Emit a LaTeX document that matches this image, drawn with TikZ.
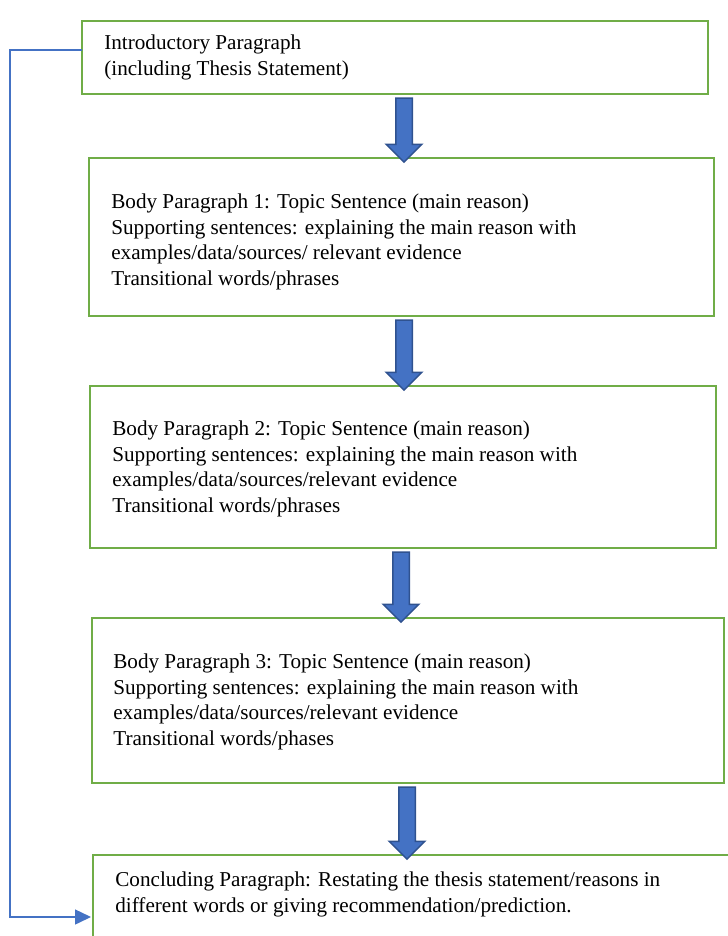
\documentclass[tikz,border=0pt]{standalone}
\usepackage{fontspec}
\setmainfont{Liberation Serif}
\usetikzlibrary{shapes.arrows,arrows.meta,fit}
\definecolor{boxgreen}{HTML}{70AD47}
\definecolor{arrowblue}{HTML}{4472C4}
\definecolor{arrowedge}{HTML}{2F528F}
\tikzset{
  para/.style={draw=boxgreen, line width=1.6pt, inner sep=0pt},
  txt/.style={anchor=base west, align=left, inner sep=0pt, font=\fontsize{12.7}{15.3}\selectfont},
  down/.style={single arrow, fill=arrowblue, draw=arrowedge, line width=0.9pt, rotate=-90,
    minimum width=20.4pt, single arrow head extend=5.7pt, single arrow head indent=0pt,
    inner xsep=0pt, inner ysep=4.5pt},
  back/.style={draw=arrowblue, line width=0.9pt}
}
\begin{document}
\begin{tikzpicture}[x=0.6pt,y=-0.6pt]
  \clip (0,0) rectangle (728,936);

  \node [para, fit={(82,21) (708,94)}] (b1) {};
  \node [txt] (t1) at (104,75) {Introductory Paragraph\\(including Thesis Statement)};

  \node [para, fit={(89,158) (714,316)}] (b2) {};
  \node [txt] (t2) at (111,285) {Body Paragraph 1: Topic Sentence (main reason)\\
    Supporting sentences: explaining the main reason with\\
    examples/data/sources/ relevant evidence\\
    Transitional words/phrases};

  \node [para, fit={(90,386) (716,548)}] (b3) {};
  \node [txt] (t3) at (112,512) {Body Paragraph 2: Topic Sentence (main reason)\\
    Supporting sentences: explaining the main reason with\\
    examples/data/sources/relevant evidence\\
    Transitional words/phrases};

  \node [para, fit={(92,618) (724,783)}] (b4) {};
  \node [txt] (t4) at (113,745) {Body Paragraph 3: Topic Sentence (main reason)\\
    Supporting sentences: explaining the main reason with\\
    examples/data/sources/relevant evidence\\
    Transitional words/phases};

  \node [para, fit={(93,855) (745,960)}] (b5) {};
  \node [txt] (t5) at (115,912) {Concluding Paragraph: Restating the thesis statement/reasons in\\
    different words or giving recommendation/prediction.};

  % block arrows between the boxes
  \node [down, minimum height=38.4pt] (a1) at (404,126) {};
  \node [down, minimum height=42pt] (a2) at (404,351) {};
  \node [down, minimum height=42pt] (a3) at (401,583) {};
  \node [down, minimum height=43.2pt] (a4) at (407,819) {};

  % line back from the introduction to the conclusion
  \coordinate (fbout) at (82,50);
  \coordinate (fbin) at (91,917);
  \draw [back, -{Triangle[length=9.6pt, width=9pt]}] (fbout) -- (10,50) -- (10,917) -- (fbin);
\end{tikzpicture}
\end{document}
